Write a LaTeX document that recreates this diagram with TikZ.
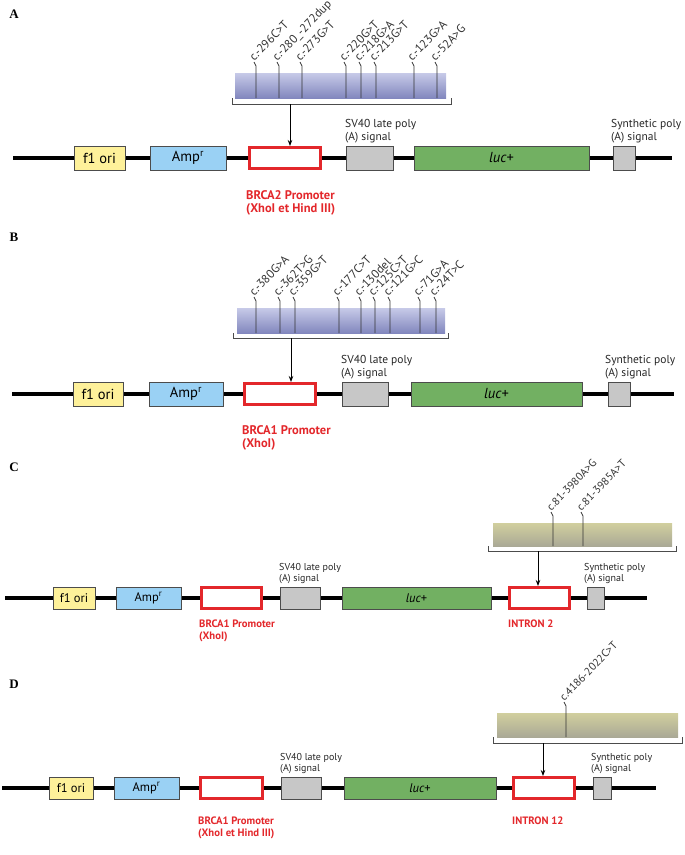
\documentclass[tikz,border=0pt]{standalone}
\usepackage{fontspec}
\setmainfont{PT Sans}
\newfontfamily\panelfont{Liberation Serif}
\usepackage{tikz}
\usetikzlibrary{
  arrows.meta,
  positioning,
  calc
}
\usepackage{xcolor}
\definecolor{oriYellow}{rgb}{0.996,0.945,0.604}
\definecolor{ampBlue}{rgb}{0.604,0.820,0.957}
\definecolor{polyGray}{rgb}{0.780,0.780,0.780}
\definecolor{lucGreen}{rgb}{0.447,0.690,0.384}
\definecolor{promRed}{rgb}{0.890,0.153,0.169}
\definecolor{edgeGray}{rgb}{0.300,0.300,0.300}
\definecolor{barBlueTop}{rgb}{0.780,0.792,0.910}
\definecolor{barBlueMid}{rgb}{0.635,0.655,0.835}
\definecolor{barBlueBot}{rgb}{0.510,0.530,0.745}
\definecolor{barOliveTop}{rgb}{0.820,0.812,0.620}
\definecolor{barOliveMid}{rgb}{0.722,0.710,0.486}
\definecolor{barOliveBot}{rgb}{0.667,0.663,0.588}
\tikzset{
  gene/.style={
    draw=edgeGray,
    line width=0.8pt,
    inner sep=0pt,
    minimum height=24pt
  },
  promo/.style={
    draw=promRed,
    fill=white,
    line width=3pt,
    inner sep=0pt,
    minimum height=21pt
  },
  backbone/.style={line width=3.2pt, black},
  varline/.style={line width=0.7pt, black!80},
  brace/.style={line width=0.8pt, edgeGray},
  pointer/.style={-{Stealth[length=6pt,width=4.5pt]}, line width=0.9pt}
}

\begin{document}
\begin{tikzpicture}[
    x=1pt, y=-1pt,
    panel/.style={font=\panelfont\bfseries\fontsize{13}{13}\selectfont, inner sep=0pt},
    note/.style={align=left, inner sep=0pt, text=black!85},
    redlab/.style={align=left, inner sep=0pt, text=promRed,
      font=\bfseries\fontsize{12.5}{13.5}\selectfont},
    blueBar/.style={top color=barBlueTop, middle color=barBlueMid,
      bottom color=barBlueBot, inner sep=0pt},
    oliveBar/.style={top color=barOliveTop, middle color=barOliveMid,
      bottom color=barOliveBot, inner sep=0pt},
    varlab/.style={anchor=base west, rotate=46, inner sep=0.3pt}
  ]
  \useasboundingbox (0,0) rectangle (685,855);

  % ---------------- A ----------------
  \node[panel] (labA) at (14,14) {A};
  \node[blueBar, minimum width=211pt, minimum height=25pt] (barA) at (340.5,85.5) {};
  \foreach \x/\t in {256/c.-296C>T, 279/c.-280\_-272dup, 302/c.-273G>T,
      346/c.-220G>T, 361/c.-218G>A, 376/c.-213G>T, 414/c.-123G>A, 437/c.-52A>G}{
    \draw[varline] (\x,98) -- (\x,66) -- ++(-2,-4)
      node[varlab, font=\fontsize{12}{12}\selectfont] (vA\x) {\t};
  }
  \draw[brace] (232,98) -- (232,104) -- (451,104) -- (451,98);
  \coordinate (tipA) at (290,104);

  \coordinate (lA) at (13,158);
  \coordinate (rA) at (672,158);
  \draw[backbone] (lA) -- (rA);
  \begin{scope}[every node/.append style={font=\fontsize{14.5}{14.5}\selectfont}]
    \node[gene, fill=oriYellow, minimum width=51pt] (oriA) at (99.5,158) {f1 ori};
    \node[gene, fill=ampBlue, minimum width=76pt] (ampA) at (188,158) {Amp\textsuperscript{r}};
    \node[promo, minimum width=71pt] (proA) at (285,158) {};
    \node[gene, fill=polyGray, minimum width=47pt] (svA) at (369.5,158) {};
    \node[gene, fill=lucGreen, minimum width=175pt] (lucA) at (501.5,158) {\textit{luc}+};
    \node[gene, fill=polyGray, minimum width=22pt] (synA) at (624,158) {};
  \end{scope}
  \draw[pointer] (tipA) -- (tipA |- proA.north);
  \node[note, anchor=south west, font=\fontsize{11.5}{12.5}\selectfont]
    (svTextA) at (345,143) {SV40 late poly\\(A) signal};
  \node[note, anchor=south west, font=\fontsize{11.5}{12.5}\selectfont]
    (synTextA) at (611,143) {Synthetic poly\\(A) signal};
  \node[redlab, anchor=north west] (proTextA) at (246,190)
    {BRCA2 Promoter\\(XhoI et Hind III)};

  % ---------------- B ----------------
  \node[panel] (labB) at (14,237) {B};
  \node[blueBar, minimum width=208pt, minimum height=25pt] (barB) at (341,320.5) {};
  \foreach \x/\t in {256/c.-380G>A, 280/c.-362T>G, 295/c.-359G>T, 339/c.-177C>T,
      361/c.-130del, 375/c.-125C>T, 390/c.-121G>C, 420/c.-71G>A, 436/c.-24T>C}{
    \draw[varline] (\x,333) -- (\x,301) -- ++(-2,-4)
      node[varlab, font=\fontsize{12}{12}\selectfont] (vB\x) {\t};
  }
  \draw[brace] (233,333) -- (233,338) -- (448,338) -- (448,333);
  \coordinate (tipB) at (291,338);

  \coordinate (lB) at (12,394);
  \coordinate (rB) at (674,394);
  \draw[backbone] (lB) -- (rB);
  \begin{scope}[every node/.append style={font=\fontsize{14.5}{14.5}\selectfont}]
    \node[gene, fill=oriYellow, minimum width=50pt] (oriB) at (98,394) {f1 ori};
    \node[gene, fill=ampBlue, minimum width=74pt] (ampB) at (186,394) {Amp\textsuperscript{r}};
    \node[promo, minimum width=71pt] (proB) at (280,394) {};
    \node[gene, fill=polyGray, minimum width=46pt] (svB) at (365,394) {};
    \node[gene, fill=lucGreen, minimum width=171pt] (lucB) at (496.5,394) {\textit{luc}+};
    \node[gene, fill=polyGray, minimum width=22pt] (synB) at (619,394) {};
  \end{scope}
  \draw[pointer] (tipB) -- (tipB |- proB.north);
  \node[note, anchor=south west, font=\fontsize{11.5}{12.5}\selectfont]
    (svTextB) at (341,379) {SV40 late poly\\(A) signal};
  \node[note, anchor=south west, font=\fontsize{11.5}{12.5}\selectfont]
    (synTextB) at (605,379) {Synthetic poly\\(A) signal};
  \node[redlab, anchor=north west] (proTextB) at (242,425)
    {BRCA1 Promoter\\(XhoI)};

  % ---------------- C ----------------
  \node[panel] (labC) at (14,467) {C};
  \node[oliveBar, minimum width=179pt, minimum height=23pt] (barC) at (582.5,534.5) {};
  \foreach \x/\t in {553/c.81-3980A>G, 583/c.81-3985A>T}{
    \draw[varline] (\x,546) -- (\x,516) -- ++(-2,-4)
      node[varlab, font=\fontsize{11}{11}\selectfont] (vC\x) {\t};
  }
  \draw[brace] (488,546) -- (488,551) -- (676,551) -- (676,546);
  \coordinate (tipC) at (538,551);

  \coordinate (lC) at (5,598);
  \coordinate (rC) at (647,598);
  \draw[backbone] (lC) -- (rC);
  \begin{scope}[every node/.append style={font=\fontsize{12.5}{12.5}\selectfont}]
    \node[gene, fill=oriYellow, minimum width=42pt, minimum height=22pt] (oriC) at (74,598) {f1 ori};
    \node[gene, fill=ampBlue, minimum width=65pt, minimum height=22pt] (ampC) at (148.5,598) {Amp\textsuperscript{r}};
    \node[promo, minimum width=60pt] (proC) at (231.5,598) {};
    \node[gene, fill=polyGray, minimum width=40pt, minimum height=22pt] (svC) at (300,598) {};
    \node[gene, fill=lucGreen, minimum width=149pt, minimum height=22pt] (lucC) at (416.5,598) {\textit{luc}+};
    \node[promo, minimum width=60pt] (intC) at (539.5,598) {};
    \node[gene, fill=polyGray, minimum width=17pt, minimum height=22pt] (synC) at (595.5,598) {};
  \end{scope}
  \draw[pointer] (tipC) -- (tipC |- intC.north);
  \node[note, anchor=south west, font=\fontsize{10}{11}\selectfont]
    (svTextC) at (279,584) {SV40 late poly\\(A) signal};
  \node[note, anchor=south west, font=\fontsize{10}{11}\selectfont]
    (synTextC) at (584,584) {Synthetic poly\\(A) signal};
  \node[redlab, anchor=north west, font=\bfseries\fontsize{10.7}{12}\selectfont]
    (proTextC) at (199,620) {BRCA1 Promoter\\(XhoI)};
  \node[redlab, anchor=north west, font=\bfseries\fontsize{10.7}{12}\selectfont]
    (intTextC) at (508,620) {INTRON 2};

  % ---------------- D ----------------
  \node[panel] (labD) at (14,684) {D};
  \node[oliveBar, minimum width=181pt, minimum height=24pt] (barD) at (587.5,725) {};
  \foreach \x/\t in {566/c.4186-2022C>T}{
    \draw[varline] (\x,737) -- (\x,706) -- ++(-2,-4)
      node[varlab, font=\fontsize{11}{11}\selectfont] (vD\x) {\t};
  }
  \draw[brace] (493,737) -- (493,743) -- (682,743) -- (682,737);
  \coordinate (tipD) at (543,743);

  \coordinate (lD) at (2,788);
  \coordinate (rD) at (656,788);
  \draw[backbone] (lD) -- (rD);
  \begin{scope}[every node/.append style={font=\fontsize{12.5}{12.5}\selectfont}]
    \node[gene, fill=oriYellow, minimum width=44pt, minimum height=22pt] (oriD) at (71,788) {f1 ori};
    \node[gene, fill=ampBlue, minimum width=65pt, minimum height=22pt] (ampD) at (146.5,788) {Amp\textsuperscript{r}};
    \node[promo, minimum width=62pt] (proD) at (231.5,788) {};
    \node[gene, fill=polyGray, minimum width=40pt, minimum height=22pt] (svD) at (301,788) {};
    \node[gene, fill=lucGreen, minimum width=152pt, minimum height=22pt] (lucD) at (420,788) {\textit{luc}+};
    \node[promo, minimum width=61pt] (intD) at (544,788) {};
    \node[gene, fill=polyGray, minimum width=18pt, minimum height=22pt] (synD) at (602,788) {};
  \end{scope}
  \draw[pointer] (tipD) -- (tipD |- intD.north);
  \node[note, anchor=south west, font=\fontsize{10}{11}\selectfont]
    (svTextD) at (280,774) {SV40 late poly\\(A) signal};
  \node[note, anchor=south west, font=\fontsize{10}{11}\selectfont]
    (synTextD) at (591,774) {Synthetic poly\\(A) signal};
  \node[redlab, anchor=north west, font=\bfseries\fontsize{10.7}{12}\selectfont]
    (proTextD) at (198,817) {BRCA1 Promoter\\(XhoI et Hind III)};
  \node[redlab, anchor=north west, font=\bfseries\fontsize{10.7}{12}\selectfont]
    (intTextD) at (512,817) {INTRON 12};
\end{tikzpicture}
\end{document}
